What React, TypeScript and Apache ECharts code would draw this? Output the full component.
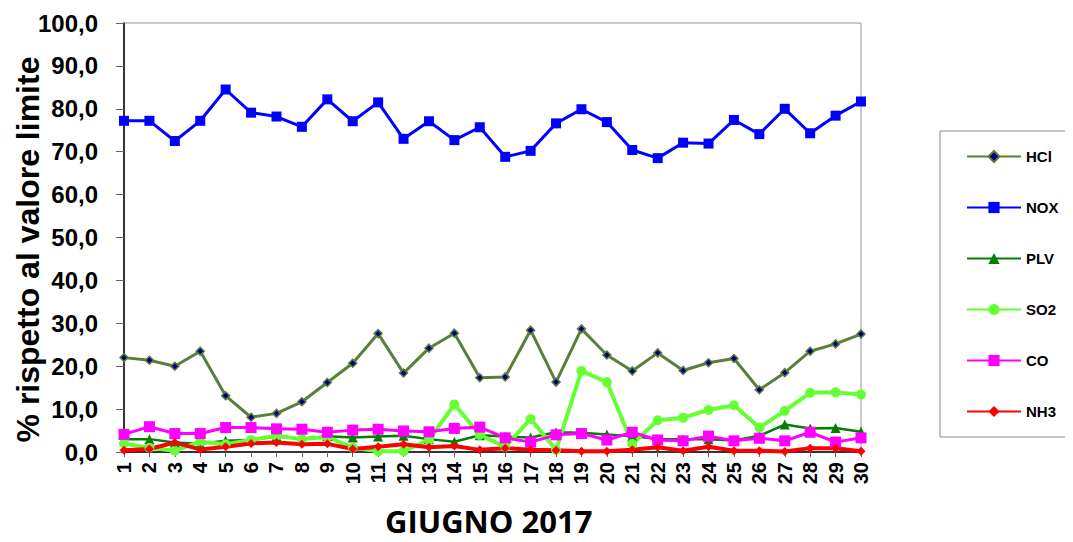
import React, { useEffect, useRef } from "react";
import * as echarts from "echarts";

const days = Array.from({ length: 30 }, (_, i) => String(i + 1));
const yTicks = [0, 10, 20, 30, 40, 50, 60, 70, 80, 90, 100];

const hcl = [22.0, 21.4, 20.0, 23.5, 13.1, 8.1, 9.0, 11.7, 16.2, 20.7, 27.6, 18.4, 24.2, 27.7, 17.3, 17.5, 28.4, 16.3, 28.7, 22.6, 18.9, 23.1, 19.0, 20.8, 21.8, 14.5, 18.5, 23.5, 25.2, 27.5];
const nox = [77.2, 77.2, 72.5, 77.2, 84.5, 79.1, 78.2, 75.8, 82.2, 77.1, 81.5, 73.0, 77.1, 72.7, 75.7, 68.8, 70.2, 76.6, 79.9, 76.9, 70.4, 68.5, 72.1, 71.9, 77.4, 74.1, 80.0, 74.3, 78.4, 81.7];
const plv = [3.0, 3.0, 2.2, 1.9, 2.6, 2.8, 3.6, 3.1, 3.7, 3.4, 3.6, 3.8, 3.0, 2.4, 3.9, 3.6, 3.4, 4.6, 4.5, 4.1, 3.7, 3.0, 3.0, 3.0, 2.7, 3.8, 6.4, 5.5, 5.6, 4.7];
const so2 = [2.0, 1.0, 0.3, 2.4, 1.8, 2.8, 3.8, 3.0, 3.5, 1.0, 0.2, 0.2, 2.8, 11.1, 4.0, 1.2, 7.7, 0.5, 18.9, 16.3, 1.9, 7.4, 8.0, 9.8, 10.9, 5.7, 9.6, 13.8, 13.9, 13.4];
const co = [4.1, 5.9, 4.3, 4.3, 5.7, 5.7, 5.4, 5.3, 4.6, 5.1, 5.3, 4.9, 4.7, 5.5, 5.8, 3.3, 2.3, 4.0, 4.3, 2.8, 4.6, 2.8, 2.6, 3.7, 2.6, 3.2, 2.6, 4.6, 2.3, 3.3];
const nh3 = [0.4, 0.7, 2.2, 0.6, 1.2, 2.0, 2.2, 1.8, 1.9, 0.7, 1.2, 1.8, 1.1, 1.4, 0.5, 0.9, 0.5, 0.4, 0.2, 0.2, 0.5, 1.1, 0.3, 1.2, 0.3, 0.3, 0.1, 0.9, 0.9, 0.2];

const FONT = "'Liberation Sans', Arial, sans-serif";

export default function App() {
  const ref = useRef<HTMLDivElement>(null);
  useEffect(() => {
    if (!ref.current) return;
    const chart = echarts.init(ref.current, undefined, { renderer: "svg" });
    const mk = (name: string, data: number[], color: string, width: number, symbol: string, size: number, extra: any = {}) => ({
      name,
      type: "line",
      data,
      symbol,
      symbolSize: size,
      lineStyle: { color, width },
      itemStyle: { color, ...(extra.itemStyle || {}) },
      z: extra.z || 2,
    });
    chart.setOption({
      animation: false,
      textStyle: { fontFamily: FONT },
      grid: {
        left: 124,
        right: 212,
        top: 23,
        bottom: 90,
        show: true,
        borderColor: "#999",
        borderWidth: 1,
        containLabel: false,
        outerBoundsMode: "none",
      },
      legend: {
        orient: "vertical",
        left: 940,
        top: 131,
        padding: [18, 12, 18, 26],
        itemWidth: 54,
        itemHeight: 14,
        itemGap: 36,
        borderColor: "#888",
        borderWidth: 1,
        textStyle: { fontFamily: FONT, fontWeight: "bold", fontSize: 15, color: "#000" },
        data: ["HCl", "NOX", "PLV", "SO2", "CO", "NH3"],
      },
      graphic: [
        {
          type: "text",
          left: 385,
          top: 505,
          style: { text: "GIUGNO 2017", font: "bold 31px 'Open Sans', sans-serif", fill: "#000" },
        },
      ],
      xAxis: {
        type: "category",
        data: days,
        boundaryGap: false,
        axisLine: { lineStyle: { color: "#000", width: 1.5 } },
        axisTick: { show: true, alignWithLabel: true, length: 5, lineStyle: { color: "#666" } },
        axisLabel: { rotate: 90, fontSize: 20, fontWeight: "bold", color: "#000", fontFamily: FONT, margin: 10, interval: 0 },
        splitLine: { show: false },
      },
      yAxis: {
        type: "value",
        min: 0,
        max: 100,
        interval: 10,
        name: "% rispetto al valore limite",
        nameLocation: "middle",
        nameGap: 80,
        nameMoveOverlap: false,
        nameTextStyle: { fontSize: 32, fontWeight: "bold", color: "#000", fontFamily: FONT, padding: [0, 24, 0, 0] },
        axisLine: { show: true, lineStyle: { color: "#000", width: 1.5 } },
        axisTick: { show: true, length: 8, lineStyle: { color: "#666" } },
        axisLabel: {
          fontSize: 24,
          fontWeight: "bold",
          color: "#000",
          fontFamily: FONT,
          margin: 26,
          formatter: (v: number) => (yTicks.includes(v) ? v.toFixed(1).replace(".", ",") : ""),
        },
        splitLine: { show: false },
      },
      series: [
        mk("HCl", hcl, "#5a7f3a", 3, "diamond", 8, { itemStyle: { color: "#000080", borderColor: "#5a7f3a", borderWidth: 1.5 } }),
        mk("NOX", nox, "#0000ff", 3, "rect", 10),
        mk("PLV", plv, "#008000", 2.5, "triangle", 10),
        mk("SO2", so2, "#66ff33", 4, "circle", 10),
        mk("CO", co, "#ff00ff", 3, "rect", 11),
        mk("NH3", nh3, "#ff0000", 4, "diamond", 9),
      ],
    });
    return () => chart.dispose();
  }, []);
  return <div ref={ref} style={{ width: 1073, height: 542, marginLeft: -8, marginTop: -8 }} />;
}
